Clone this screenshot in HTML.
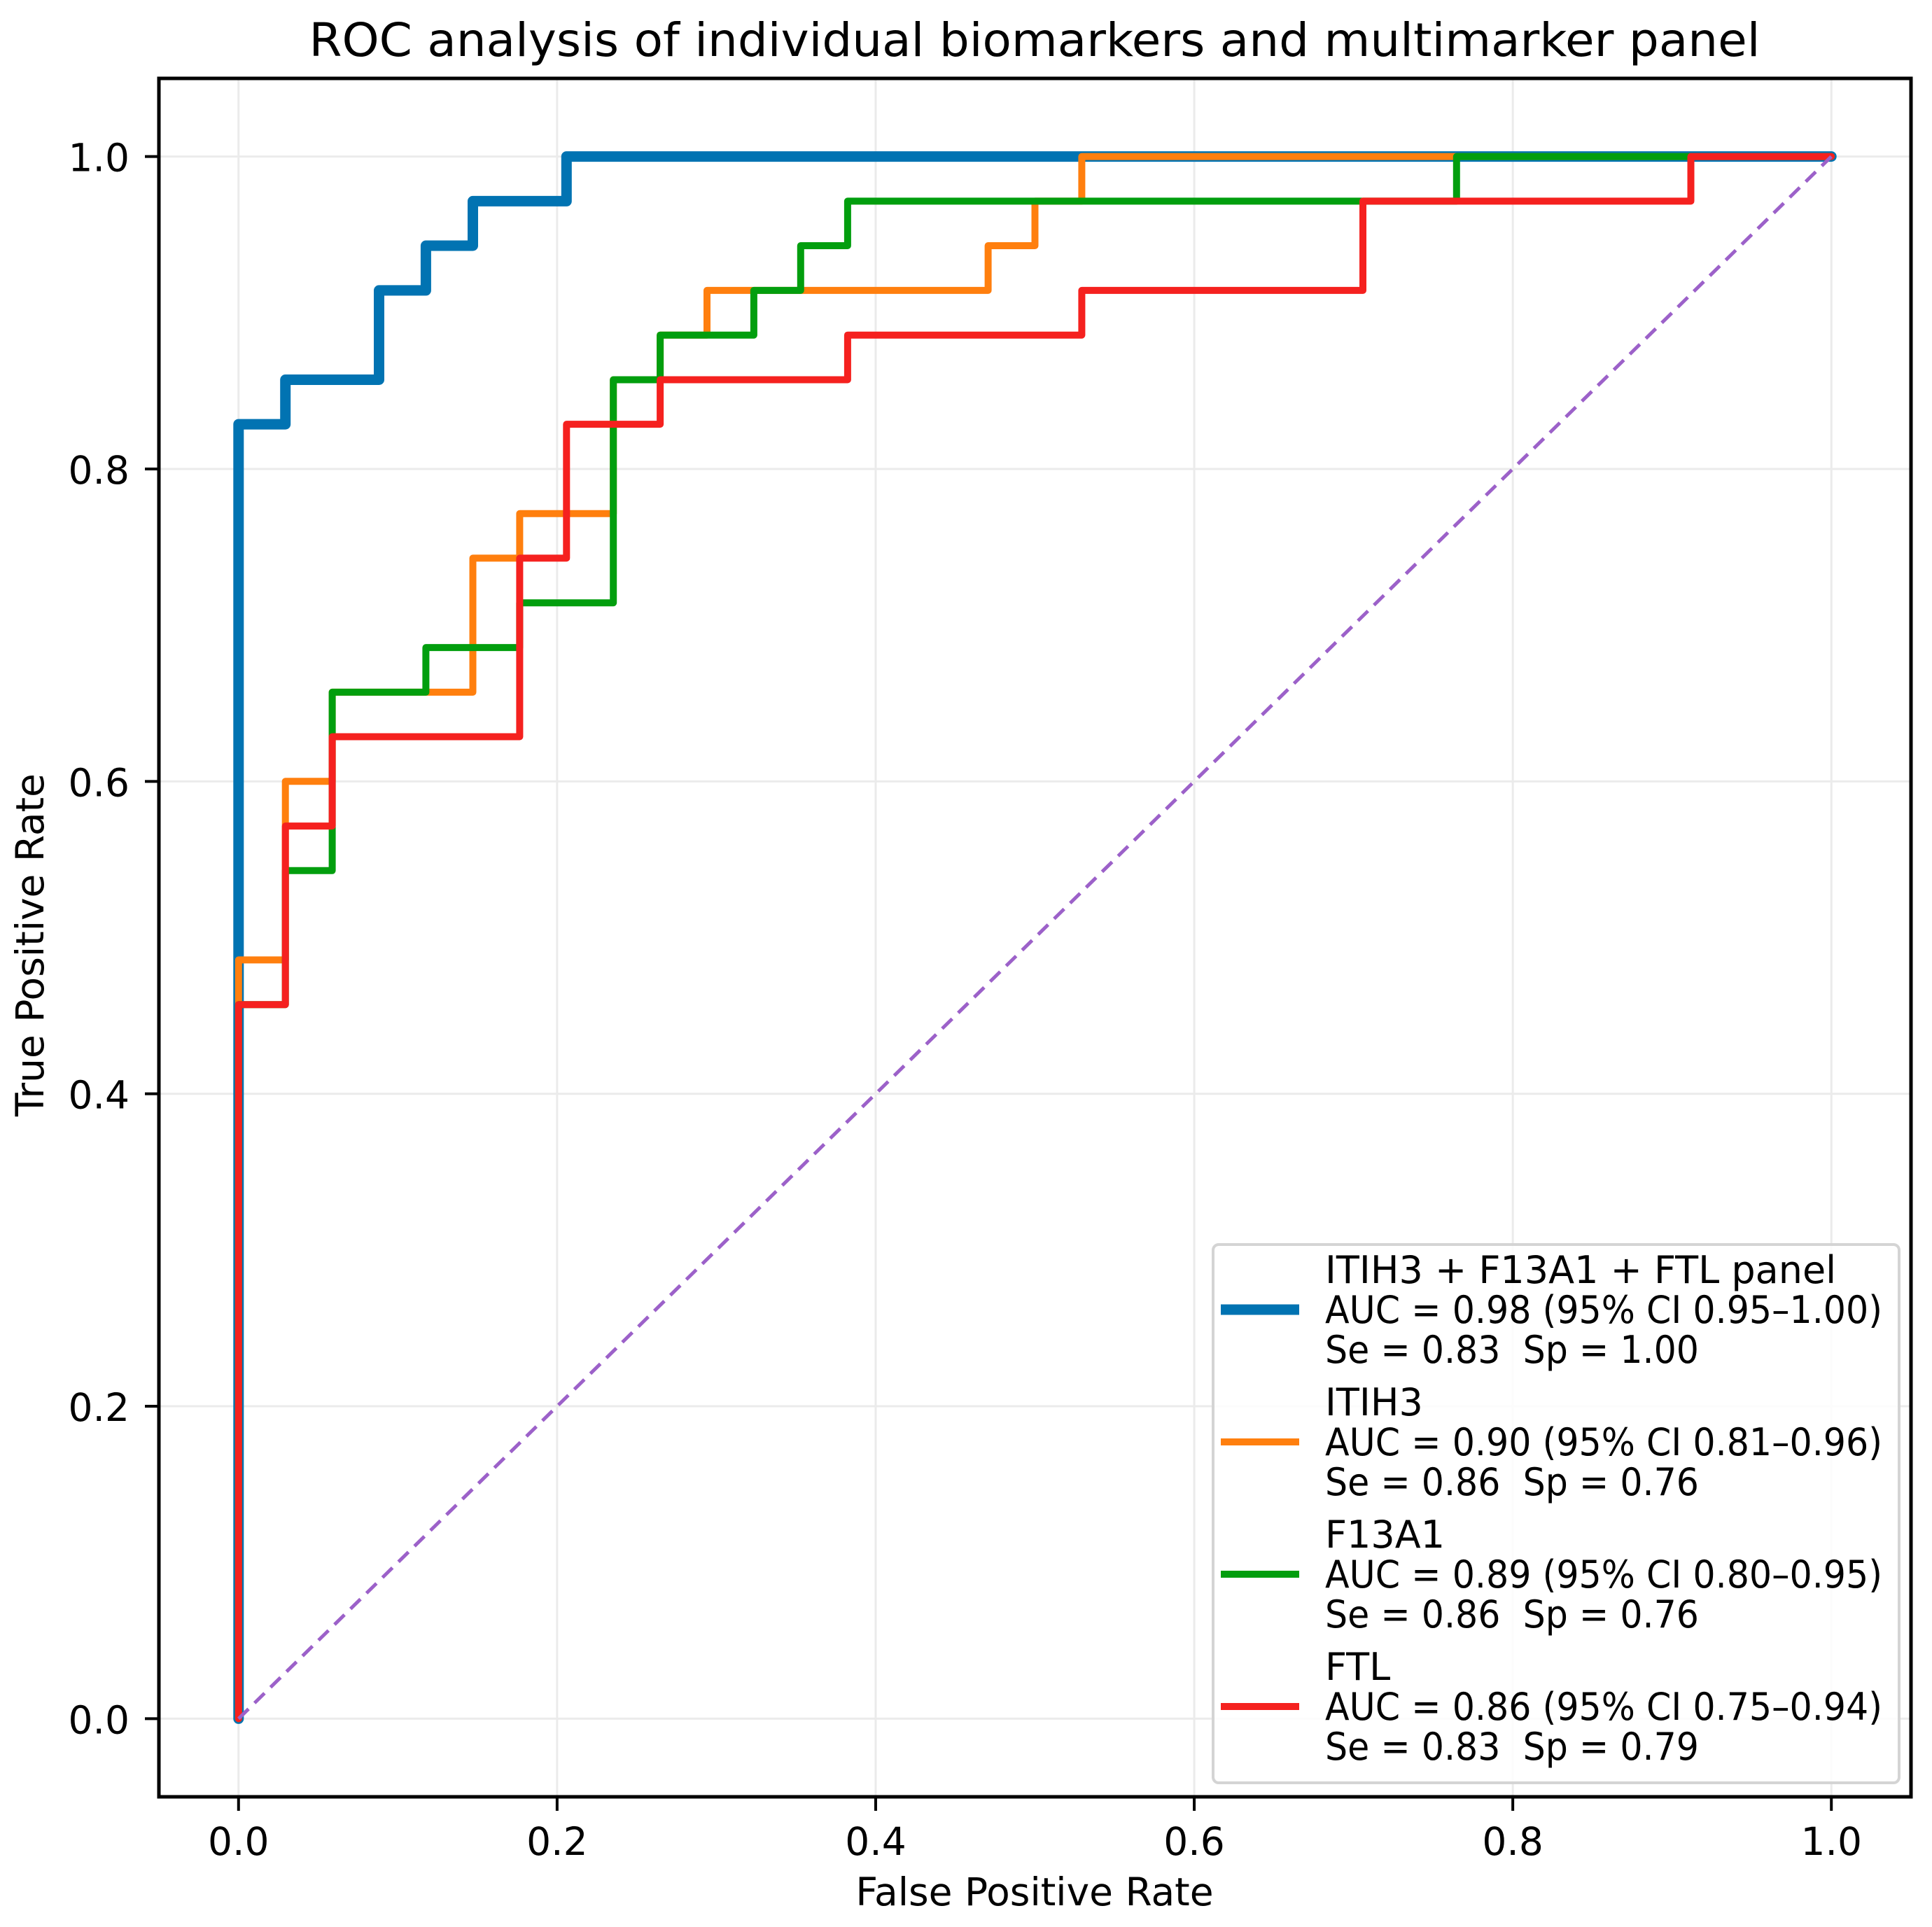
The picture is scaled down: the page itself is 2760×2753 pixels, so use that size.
<!DOCTYPE html>
<html><head><meta charset="utf-8"><style>
html,body{margin:0;padding:0;background:#fff;}
svg{display:block;font-family:"DejaVu Sans","Liberation Sans",sans-serif;}
text{white-space:pre;}
</style></head><body>
<svg id="chart" width="2760" height="2753" viewBox="0 0 2760 2753" xmlns="http://www.w3.org/2000/svg">
<rect x="0" y="0" width="2760" height="2753" fill="#fff"/>
<text x="1478" y="80" font-size="66" text-anchor="middle" textLength="2073" lengthAdjust="spacingAndGlyphs">ROC analysis of individual biomarkers and multimarker panel</text>
<g id="grid"></g>
<g id="series"></g>
<g id="axes"></g>
<g id="legend"></g>
<text x="1478" y="2722" font-size="55" text-anchor="middle">False Positive Rate</text>
<text transform="translate(62,1350) rotate(-90)" font-size="55" text-anchor="middle">True Positive Rate</text>
</svg>
<script>
const ticks = [0, 0.2, 0.4, 0.6, 0.8, 1.0];
const tickLabels = ["0.0", "0.2", "0.4", "0.6", "0.8", "1.0"];
const seriesNames = ["ITIH3 + F13A1 + FTL panel", "ITIH3", "F13A1", "FTL"];
const seriesColors = ["#0173b2", "#ff7f0e", "#029e0e", "#f5211f"];
const seriesWidths = [15, 10, 10, 10];
const panelFpr = [0, 0, 0.0294, 0.0294, 0.0882, 0.0882, 0.1176, 0.1176, 0.1471, 0.1471, 0.2059, 0.2059, 1];
const panelTpr = [0, 0.8286, 0.8286, 0.8571, 0.8571, 0.9143, 0.9143, 0.9429, 0.9429, 0.9714, 0.9714, 1, 1];
const itihFpr = [0, 0, 0.0294, 0.0294, 0.0588, 0.0588, 0.1471, 0.1471, 0.1765, 0.1765, 0.2353, 0.2353, 0.2647, 0.2647, 0.2941, 0.2941, 0.4706, 0.4706, 0.5, 0.5, 0.5294, 0.5294, 1];
const itihTpr = [0, 0.4857, 0.4857, 0.6, 0.6, 0.6571, 0.6571, 0.7429, 0.7429, 0.7714, 0.7714, 0.8571, 0.8571, 0.8857, 0.8857, 0.9143, 0.9143, 0.9429, 0.9429, 0.9714, 0.9714, 1, 1];
const f13Fpr = [0, 0, 0.0294, 0.0294, 0.0588, 0.0588, 0.1176, 0.1176, 0.1765, 0.1765, 0.2353, 0.2353, 0.2647, 0.2647, 0.3235, 0.3235, 0.3529, 0.3529, 0.3824, 0.3824, 0.7647, 0.7647, 1];
const f13Tpr = [0, 0.4571, 0.4571, 0.5429, 0.5429, 0.6571, 0.6571, 0.6857, 0.6857, 0.7143, 0.7143, 0.8571, 0.8571, 0.8857, 0.8857, 0.9143, 0.9143, 0.9429, 0.9429, 0.9714, 0.9714, 1, 1];
const ftlFpr = [0, 0, 0.0294, 0.0294, 0.0588, 0.0588, 0.1765, 0.1765, 0.2059, 0.2059, 0.2647, 0.2647, 0.3824, 0.3824, 0.5294, 0.5294, 0.7059, 0.7059, 0.9118, 0.9118, 1];
const ftlTpr = [0, 0.4571, 0.4571, 0.5714, 0.5714, 0.6286, 0.6286, 0.7429, 0.7429, 0.8286, 0.8286, 0.8571, 0.8571, 0.8857, 0.8857, 0.9143, 0.9143, 0.9714, 0.9714, 1, 1];
const legendAuc = ["AUC = 0.98 (95% CI 0.95–1.00)", "AUC = 0.90 (95% CI 0.81–0.96)", "AUC = 0.89 (95% CI 0.80–0.95)", "AUC = 0.86 (95% CI 0.75–0.94)"];
const legendSeSp = ["Se = 0.83  Sp = 1.00", "Se = 0.86  Sp = 0.76", "Se = 0.86  Sp = 0.76", "Se = 0.83  Sp = 0.79"];

const NS = "http://www.w3.org/2000/svg";
const L = 227, R = 2730, T = 112, B = 2567;
const xMin = -0.05, xMax = 1.05, yMin = -0.05, yMax = 1.05;
function xs(v){ return L + (v - xMin) / (xMax - xMin) * (R - L); }
function ys(v){ return B - (v - yMin) / (yMax - yMin) * (B - T); }
function mk(tag, attrs, parent){
  const e = document.createElementNS(NS, tag);
  for (const k in attrs) e.setAttribute(k, attrs[k]);
  parent.appendChild(e);
  return e;
}
const grid = document.getElementById('grid');
const axes = document.getElementById('axes');
const series = document.getElementById('series');
const legend = document.getElementById('legend');

ticks.forEach((t, i) => {
  const gv = mk('line', {x1: xs(t), x2: xs(t), y1: T, y2: B, stroke: '#ebebeb', 'stroke-width': 3}, grid);
  
  
  const gh = mk('line', {x1: L, x2: R, y1: ys(t), y2: ys(t), stroke: '#ebebeb', 'stroke-width': 3}, grid);
  
  
  const tx = mk('line', {x1: xs(t), x2: xs(t), y1: B, y2: B + 20, stroke: '#000', 'stroke-width': 4}, axes);
  
  
  const lx = mk('text', {x: xs(t), y: B + 83, 'font-size': 55, 'text-anchor': 'middle'}, axes);
  lx.textContent = tickLabels[i];
  
  
  const ty = mk('line', {x1: L - 20, x2: L, y1: ys(t), y2: ys(t), stroke: '#000', 'stroke-width': 4}, axes);
  
  
  const ly = mk('text', {x: L - 42, y: ys(t) + 21, 'font-size': 55, 'text-anchor': 'end'}, axes);
  ly.textContent = tickLabels[i];
  
  
});
const frame = mk('rect', {x: L, y: T, width: R - L, height: B - T, fill: 'none', stroke: '#000', 'stroke-width': 5}, axes);



const allX = [panelFpr, itihFpr, f13Fpr, ftlFpr];
const allY = [panelTpr, itihTpr, f13Tpr, ftlTpr];
const curveNames = ['curve-panel', 'curve-itih3', 'curve-f13a1', 'curve-ftl'];
allX.forEach((xa, s) => {
  const pts = xa.map((v, i) => xs(v).toFixed(1) + ',' + ys(allY[s][i]).toFixed(1)).join(' ');
  const pl = mk('polyline', {points: pts, fill: 'none', stroke: seriesColors[s], 'stroke-width': seriesWidths[s], 'stroke-linejoin': 'round', 'stroke-linecap': 'round'}, series);
  
  
});
const diag = mk('line', {x1: xs(0), y1: ys(0), x2: xs(1), y2: ys(1), stroke: '#9c61c9', 'stroke-width': 5, 'stroke-dasharray': '20 12'}, series);



const box = mk('rect', {x: 1733, y: 1778, width: 980, height: 769, rx: 8, fill: '#fff', 'fill-opacity': 0.85, stroke: '#d4d4d4', 'stroke-width': 4}, legend);


seriesNames.forEach((n, s) => {
  const c = 1814 + s * 189;
  const g = mk('g', {}, legend);
  
  
  const h = mk('line', {x1: 1744, x2: 1856, y1: c + 57, y2: c + 57, stroke: seriesColors[s], 'stroke-width': seriesWidths[s]}, g);
  
  
  const lines = [n, legendAuc[s], legendSeSp[s]];
  lines.forEach((txt, k) => {
    const t = mk('text', {x: 1893, y: c + k * 57 + 19, 'font-size': 54}, g);
    if (k === 1) { t.setAttribute('textLength', 796); t.setAttribute('lengthAdjust', 'spacingAndGlyphs'); }
    if (k === 2) { t.setAttribute('textLength', 534); t.setAttribute('lengthAdjust', 'spacingAndGlyphs'); }
    t.textContent = txt;
    
    
  });
});
</script>
</body></html>
